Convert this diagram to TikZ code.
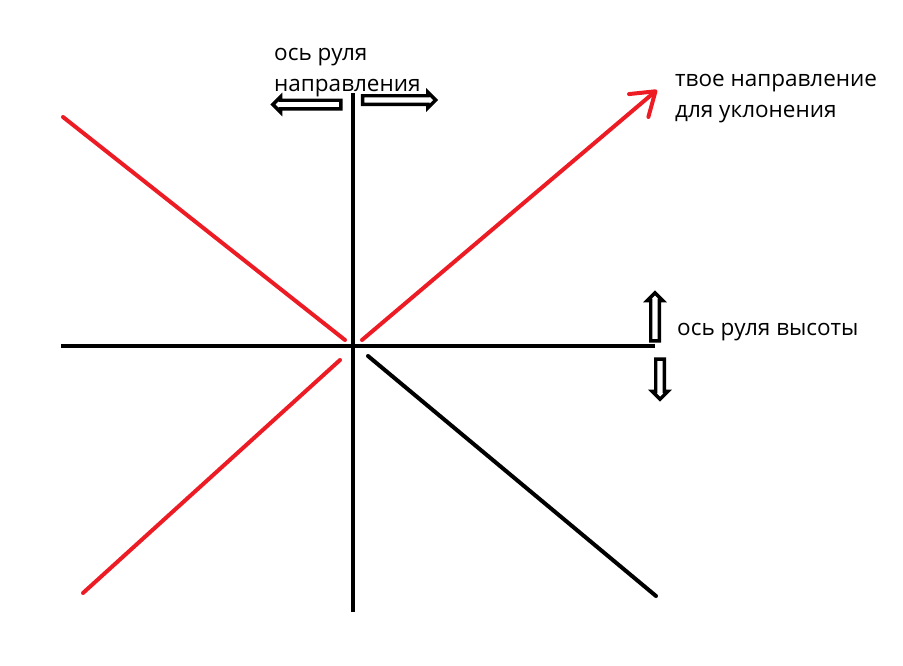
\documentclass[tikz,border=0pt]{standalone}
\usepackage{fontspec}
\setmainfont{Open Sans}
\usetikzlibrary{shapes.arrows,arrows.meta}
\definecolor{paintred}{RGB}{237,28,36}

\begin{document}
\begin{tikzpicture}[x=1pt,y=-1pt,
    axis/.style={line width=4pt,black},
    ray/.style={line width=4pt,paintred,line cap=round},
    hollow/.style={single arrow,draw,line width=3.4pt,fill=white,inner sep=2.6pt,
                   single arrow head extend=3.5pt},
    caption/.style={font=\fontsize{22.5}{31}\selectfont,align=left,anchor=base west,inner sep=0pt}]
  \useasboundingbox (0,0) rectangle (903,665);

  % axes
  \coordinate (vtop) at (353,93);
  \coordinate (vbot) at (353,612);
  \coordinate (hleft) at (61,346);
  \coordinate (hright) at (655,346);
  \draw[axis] (vtop) -- (vbot);
  \draw[axis] (hleft) -- (hright);

  % diagonals
  \coordinate (ul1) at (63,117);   \coordinate (ul2) at (345,340);
  \coordinate (ur1) at (362,340);  \coordinate (ur2) at (657,90);
  \coordinate (ll1) at (340,360);  \coordinate (ll2) at (83,593);
  \coordinate (lr1) at (368,356);  \coordinate (lr2) at (656,596);
  \draw[ray] (ul1) -- (ul2);
  \draw[ray,-{Straight Barb[length=22pt,width=30pt,round]}] (ur1) -- (ur2);
  \draw[ray] (ll1) -- (ll2);
  \draw[axis,line cap=round] (lr1) -- (lr2);

  % rudder arrows
  \node[hollow,minimum height=68pt,shape border rotate=180] (left) at (309,104.5) {};
  \node[hollow,minimum height=73pt] (right) at (397,100) {};
  \node[hollow,minimum height=48pt,shape border rotate=90] (up) at (655,319) {};
  \node[hollow,minimum height=40pt,shape border rotate=270] (down) at (660,377) {};

  % labels
  \node[caption] (yaw) at (274,91) {ось руля\\направления};
  \node[caption] (dodge) at (675,117) {твое направление\\для уклонения};
  \node[caption] (pitch) at (677,335) {ось руля высоты};
\end{tikzpicture}
\end{document}
